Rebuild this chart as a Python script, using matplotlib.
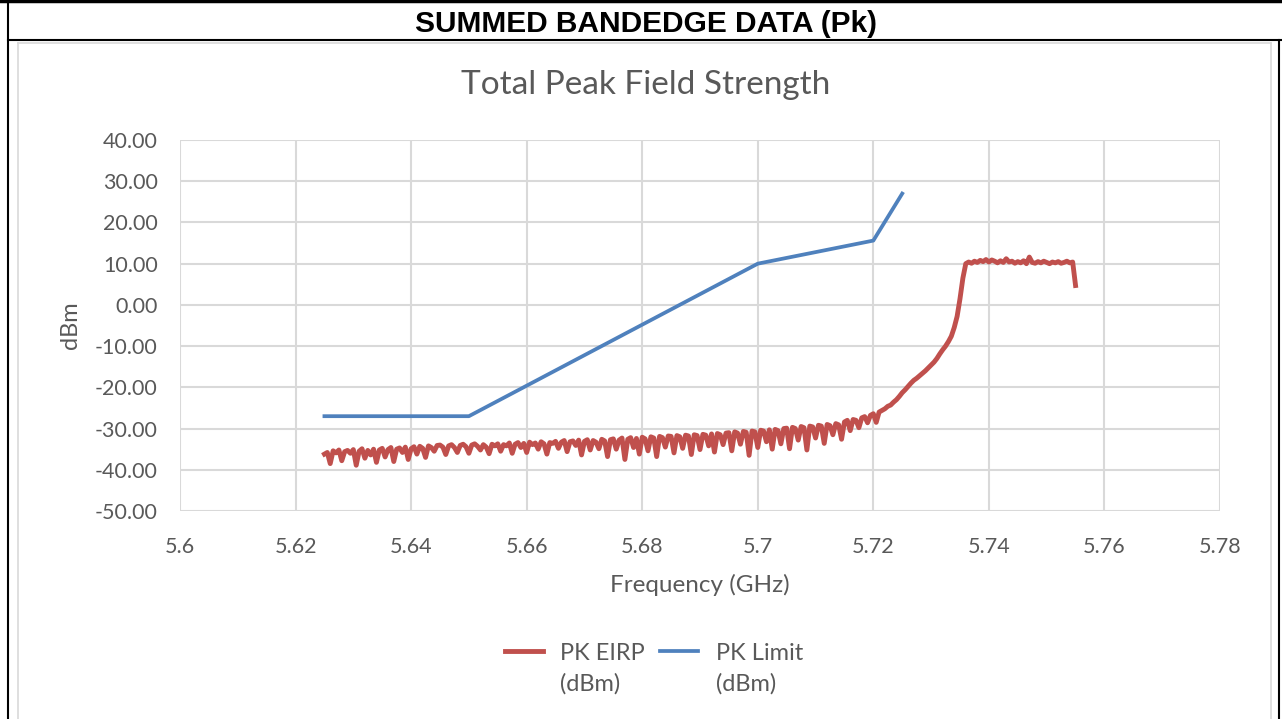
import numpy as np
import matplotlib
matplotlib.use("Agg")
import matplotlib.pyplot as plt
from matplotlib.lines import Line2D

# PK limit (dBm) corner points
limit_freq = [5.625, 5.65, 5.70, 5.72, 5.725]
limit_dbm = [-27.0, -27.0, 10.0, 15.6, 27.0]

# PK EIRP trace, one value every 0.5 MHz from 5.625 to 5.755 GHz
eirp_start = 5.625
eirp_step = 0.0005
eirp_dbm = [
    # 5.625 - 5.6345
    -36.2, -35.8, -38.5, -35.4, -35.9, -35.2, -37.8, -35.6, -35.3, -36.0,
    -35.1, -38.9, -35.5, -34.9, -37.2, -35.3, -36.4, -35.0, -38.2, -35.2,
    # 5.635 - 5.6445
    -34.8, -36.9, -35.1, -34.6, -38.0, -35.0, -34.7, -35.8, -34.5, -37.5,
    -34.9, -34.4, -36.2, -34.3, -34.8, -37.0, -34.2, -34.6, -35.5, -34.1,
    # 5.645 - 5.6545
    -34.0, -34.5, -36.3, -34.2, -33.9, -34.6, -35.8, -34.1, -33.8, -34.4,
    -36.0, -34.0, -33.7, -34.3, -35.2, -33.9, -34.5, -36.1, -33.8, -34.2,
    # 5.655 - 5.6645
    -33.7, -35.5, -33.9, -34.2, -33.5, -36.0, -33.8, -33.4, -34.6, -33.6,
    -35.8, -33.3, -33.9, -33.5, -35.0, -33.2, -33.7, -36.2, -33.4, -33.6,
    # 5.665 - 5.6745
    -33.1, -34.8, -33.3, -32.9, -35.6, -33.2, -33.0, -34.1, -32.8, -36.4,
    -33.1, -32.7, -35.2, -32.9, -33.3, -34.9, -32.6, -33.0, -36.8, -32.7,
    # 5.675 - 5.6845
    -32.5, -35.0, -32.8, -32.3, -37.5, -32.6, -32.2, -34.6, -32.4, -36.2,
    -32.1, -32.5, -35.4, -32.0, -32.3, -36.8, -31.9, -32.2, -34.5, -31.8,
    # 5.685 - 5.6945
    -31.9, -35.9, -31.7, -32.0, -34.8, -31.6, -31.8, -36.3, -31.5, -31.7,
    -35.1, -31.4, -31.6, -34.2, -31.3, -35.7, -31.2, -31.5, -33.9, -31.1,
    # 5.695 - 5.7045
    -31.0, -35.4, -30.8, -31.1, -33.8, -30.7, -30.9, -36.5, -30.6, -30.8,
    -34.6, -30.4, -30.6, -33.2, -30.3, -35.0, -30.2, -30.5, -33.7, -30.0,
    # 5.705 - 5.7145
    -29.9, -34.9, -29.7, -30.0, -32.8, -29.5, -29.8, -35.2, -29.4, -29.6,
    -32.3, -29.2, -29.4, -33.6, -29.0, -29.3, -31.5, -28.8, -29.1, -32.6,
    # 5.715 - 5.7245
    -28.4, -28.0, -30.5, -27.8, -28.0, -29.8, -27.4, -27.1, -28.6, -26.8,
    -26.4, -28.5, -26.0, -25.6, -25.2, -24.6, -24.3, -23.6, -23.0, -22.2,
    # 5.725 - 5.7345
    -21.3, -20.6, -19.8, -19.0, -18.3, -17.8, -17.2, -16.6, -16.0, -15.3,
    -14.6, -13.9, -13.0, -11.9, -10.9, -10.0, -8.9, -7.6, -5.5, -2.8,
    # 5.735 - 5.7445
    1.5, 6.5, 10.0, 10.4, 10.1, 10.6, 10.3, 10.8, 10.5, 11.0,
    10.4, 10.9, 10.6, 10.2, 10.7, 10.3, 11.2, 10.4, 10.6, 10.1,
    # 5.745 - 5.7545
    10.5, 10.2, 10.7, 10.0, 11.6, 10.3, 10.1, 10.5, 10.2, 10.6,
    10.3, 10.0, 10.4, 10.2, 10.5, 10.1, 10.3, 10.6, 10.2, 10.4,
    # 5.755
    4.7,
]
eirp_freq = eirp_start + eirp_step * np.arange(len(eirp_dbm))

x_ticks = [5.6, 5.62, 5.64, 5.66, 5.68, 5.7, 5.72, 5.74, 5.76, 5.78]
x_labels = ["5.6", "5.62", "5.64", "5.66", "5.68", "5.7", "5.72", "5.74", "5.76", "5.78"]
y_ticks = [-50, -40, -30, -20, -10, 0, 10, 20, 30, 40]
series_names = ["PK EIRP", "PK Limit"]
series_unit = "(dBm)"

RED = "#C0504D"
BLUE = "#4F81BD"
GRID = "#D9D9D9"
TXT = "#595959"
W, H = 1282, 719

plt.rcParams["font.family"] = ["Lato", "DejaVu Sans"]

fig = plt.figure(figsize=(W / 100, H / 100), dpi=100)

# frame of the report table
fig.add_artist(Line2D([0, 1], [0.998, 0.998], color="black", lw=2.5))
fig.add_artist(Line2D([8 / W, 1], [1 - 40 / H] * 2, color="black", lw=1.5))
fig.add_artist(Line2D([8 / W] * 2, [0, 1], color="black", lw=1.5))
fig.add_artist(Line2D([1279 / W] * 2, [0, 1 - 40 / H], color="black", lw=1.5))
# light border of the chart object
fig.add_artist(Line2D([18 / W] * 2, [0, 1 - 43 / H], color=GRID, lw=1.2))
fig.add_artist(Line2D([1271 / W] * 2, [0, 1 - 43 / H], color=GRID, lw=1.2))
fig.add_artist(Line2D([18 / W, 1271 / W], [1 - 43 / H] * 2, color=GRID, lw=1.2))

fig.text(646 / W, 1 - 24 / H, "SUMMED BANDEDGE DATA (Pk)", ha="center", va="center",
         fontsize=21.5, fontweight="bold", family="Liberation Sans")

ax = fig.add_axes([180 / W, 1 - 511 / H, 1040 / W, 371 / H])
l1, = ax.plot(eirp_freq, eirp_dbm, color=RED, lw=3.5, zorder=3, solid_joinstyle="round")
l2, = ax.plot(limit_freq, limit_dbm, color=BLUE, lw=2.7, zorder=3)

ax.set_xlim(5.6, 5.78)
ax.set_ylim(-50, 40)
ax.set_xticks(x_ticks)
ax.set_xticklabels(x_labels)
ax.set_yticks(y_ticks)
ax.set_yticklabels([f"{v:.2f}" for v in y_ticks])
ax.grid(True, color=GRID, lw=1.5)
ax.set_axisbelow(True)
for s in ax.spines.values():
    s.set_visible(False)
ax.tick_params(length=0, labelsize=15.5, labelcolor=TXT)
ax.tick_params(axis="y", pad=16)
ax.tick_params(axis="x", pad=19)

fig.text(646 / W, 1 - 85 / H, "Total Peak Field Strength", ha="center", va="center",
         fontsize=24, color=TXT)
ax.set_xlabel("Frequency (GHz)", fontsize=17.5, color=TXT, labelpad=12)
ax.set_ylabel("dBm", fontsize=17, color=TXT, labelpad=10)

leg = fig.legend([l1, l2], series_names, loc="center", bbox_to_anchor=(654 / W, 1 - 653 / H),
                 ncol=2, frameon=False, fontsize=17, labelcolor=TXT, handlelength=1.6,
                 handletextpad=0.75, columnspacing=0.65)
fig.canvas.draw()
for t in leg.get_texts():
    bb = t.get_window_extent()
    fig.text(bb.x0 / W, (bb.y0 + bb.y1) / 2 / H - 31 / H, series_unit, ha="left", va="center",
             fontsize=17, color=TXT)

fig.savefig("out.png", dpi=100)
